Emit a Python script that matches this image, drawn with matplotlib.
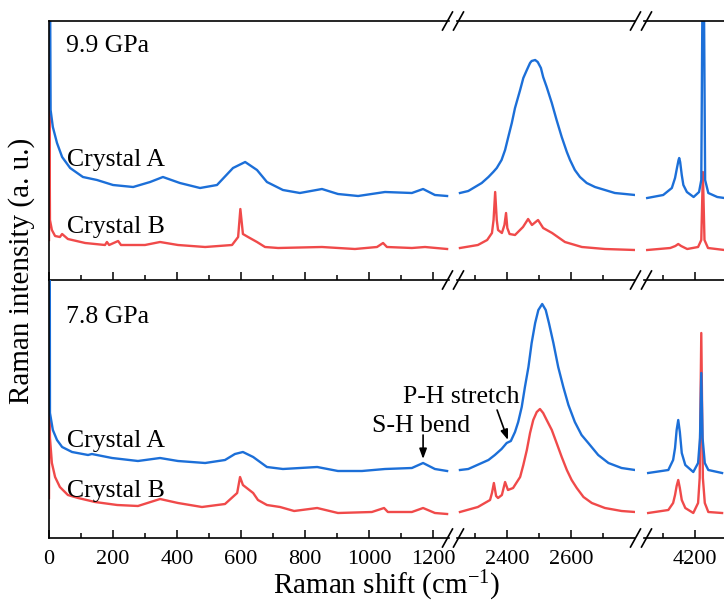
import numpy as np
import matplotlib
matplotlib.use('Agg')
import matplotlib.pyplot as plt
from matplotlib.lines import Line2D
from matplotlib.ticker import FixedLocator, NullFormatter

plt.rcParams['font.family'] = ['Liberation Serif', 'DejaVu Serif']
plt.rcParams['mathtext.fontset'] = 'custom'
plt.rcParams['mathtext.rm'] = 'Liberation Serif'
plt.rcParams['mathtext.it'] = 'Liberation Serif:italic'

nan = np.nan

# ---------------- data (Raman shift in cm^-1, intensity in arbitrary units) -------------
# 9.9 GPa, Crystal A
shift_99_A = [0, 2, 5, 12, 25, 41, 66, 106, 150, 200, 263, 316, 356, 409, 472, 525, 575, 613, 650,
              681, 731, 784, 853, 903, 966, 1050, 1134, 1169, 1206, 1244, nan,
              2253, 2279, 2300, 2321, 2342, 2357, 2368, 2383, 2394, 2404, 2415, 2425, 2441, 2451, 2462,
              2472, 2477, 2488, 2496, 2506, 2513, 2524, 2540, 2555, 2571, 2587, 2597, 2612, 2628, 2649,
              2675, 2706, 2737, 2769, 2800, nan,
              4050, 4100, 4127, 4137, 4143, 4148, 4150, 4153, 4158, 4163, 4174, 4195, 4212, 4219, 4225,
              4231, 4241, 4269, 4291]
int_99_A = [400, 400, 170, 153, 137, 123, 112, 103, 100, 95, 93, 98, 103, 97, 92, 95, 112, 118, 110,
            98, 90, 87, 91, 86, 84, 88, 87, 91, 85, 84, nan,
            87, 89, 93, 97, 103, 108, 112, 120, 130, 143, 157, 172, 190, 202, 210,
            217, 219, 220, 218, 212, 203, 193, 177, 160, 143, 128, 120, 110, 103, 97,
            93, 90, 87, 86, 85, nan,
            82, 85, 92, 102, 112, 120, 122, 118, 105, 95, 88, 83, 88, 100, 400,
            100, 87, 83, 82]

# 9.9 GPa, Crystal B
shift_99_B = [0, 1, 3, 9, 19, 34, 41, 59, 113, 175, 181, 188, 216, 225, 300, 347, 403, 488, 572, 591,
              598, 606, 622, 650, 675, 716, 853, 956, 1025, 1044, 1056, 1134, 1175, 1244, nan,
              2253, 2309, 2338, 2353, 2358, 2363, 2368, 2372, 2384, 2392, 2397, 2401, 2408, 2425, 2450,
              2466, 2478, 2497, 2513, 2541, 2581, 2634, 2706, 2800, nan,
              4050, 4122, 4138, 4147, 4156, 4175, 4209, 4219, 4224, 4229, 4240, 4291]
int_99_B = [40, 205, 60, 50, 44, 43, 46, 41, 37, 35, 38, 35, 39, 35, 35, 38, 35, 33, 35, 43,
            71, 46, 43, 38, 33, 32, 33, 31, 33, 37, 33, 32, 33, 31, nan,
            32, 35, 40, 47, 60, 88, 60, 50, 47, 55, 67, 52, 46, 45, 53,
            61, 55, 60, 52, 47, 38, 33, 31, 30, nan,
            30, 32, 34, 36, 34, 31, 33, 40, 108, 40, 32, 30]

# 7.8 GPa, Crystal A
shift_78_A = [0, 2, 3, 12, 25, 41, 72, 122, 134, 197, 278, 347, 403, 488, 550, 581, 606, 638, 681,
              731, 838, 903, 978, 1050, 1134, 1169, 1206, 1244, nan,
              2253, 2279, 2300, 2321, 2342, 2362, 2383, 2399, 2412, 2425, 2435, 2446, 2456, 2467, 2477,
              2488, 2498, 2510, 2521, 2531, 2545, 2560, 2576, 2592, 2612, 2633, 2654, 2685, 2717, 2758,
              2800, nan,
              4053, 4116, 4131, 4137, 4142, 4147, 4152, 4158, 4169, 4194, 4209, 4215, 4219, 4223, 4230,
              4241, 4284]
int_78_A = [400, 400, 125, 108, 98, 91, 86, 83, 84, 80, 77, 80, 77, 75, 78, 84, 86, 81, 71,
            69, 71, 67, 67, 69, 70, 75, 69, 67, nan,
            68, 69, 72, 75, 78, 83, 89, 95, 97, 106, 116, 131, 151, 171, 195,
            215, 228, 234, 228, 215, 195, 171, 151, 133, 116, 103, 95, 83, 75, 70,
            68, nan,
            65, 68, 78, 90, 108, 118, 106, 85, 73, 66, 75, 100, 165, 100, 75,
            68, 65]

# 7.8 GPa, Crystal B
shift_78_B = [0, 1, 3, 9, 19, 34, 59, 91, 144, 213, 278, 347, 403, 478, 550, 588, 597, 606, 638, 653,
              681, 722, 766, 838, 903, 1009, 1047, 1059, 1134, 1169, 1206, 1244, nan,
              2253, 2309, 2347, 2353, 2359, 2366, 2372, 2384, 2394, 2403, 2419, 2441, 2451, 2462, 2472,
              2482, 2493, 2503, 2513, 2524, 2540, 2555, 2571, 2587, 2602, 2618, 2639, 2665, 2706, 2758,
              2800, nan,
              4053, 4116, 4131, 4137, 4142, 4147, 4152, 4158, 4169, 4194, 4209, 4214, 4219, 4224, 4230,
              4241, 4284]
int_78_B = [40, 155, 100, 75, 61, 51, 43, 40, 36, 33, 32, 39, 35, 31, 34, 45, 61, 53, 45, 38,
            33, 31, 27, 30, 25, 26, 30, 26, 26, 30, 25, 24, nan,
            26, 31, 38, 45, 55, 42, 40, 43, 56, 48, 50, 61, 73, 88, 105,
            118, 126, 129, 125, 118, 108, 95, 81, 68, 58, 50, 41, 35, 30, 27,
            26, nan,
            25, 28, 35, 43, 52, 58, 50, 38, 30, 25, 35, 60, 205, 60, 35,
            26, 25]

pressure_labels = ['9.9 GPa', '7.8 GPa']
crystal_labels = ['Crystal A', 'Crystal B']
seg_limits = [(0, 1250), (2245, 2800), (4040, 4290)]
seg_major = [[0, 200, 400, 600, 800, 1000, 1200], [2400, 2600], [4200]]
seg_minor = [[100, 300, 500, 700, 900, 1100], [2300, 2500, 2700], [4100]]

# ---------------- layout ----------------
W, H = 724, 607
fig = plt.figure(figsize=(W / 100, H / 100), dpi=100)

def fx(px):
    return px / W

def fy(py):
    return 1 - py / H

seg_px = [(49, 449), (457.4, 635), (644, 724)]
rows = [(21, 280), (280, 538)]
blue = '#1c6fd8'
red = '#f04a4a'
series = [((shift_99_A, int_99_A), (shift_99_B, int_99_B)),
          ((shift_78_A, int_78_A), (shift_78_B, int_78_B))]

axes = []
for r, (ytop, ybot) in enumerate(rows):
    row_axes = []
    for s, (x0, x1) in enumerate(seg_px):
        ax = fig.add_axes([fx(x0), fy(ybot), (x1 - x0) / W, (ybot - ytop) / H])
        (sa, ia), (sb, ib) = series[r]
        ax.plot(sb, ib, color=red, lw=1.7, solid_joinstyle='round')
        ax.plot(sa, ia, color=blue, lw=1.7, solid_joinstyle='round')
        ax.set_xlim(*seg_limits[s])
        ax.set_ylim(0, ybot - ytop)
        ax.set_yticks([])
        ax.xaxis.set_major_locator(FixedLocator(seg_major[s]))
        ax.xaxis.set_minor_locator(FixedLocator(seg_minor[s]))
        ax.tick_params(axis='x', which='major', direction='in', length=6, width=1.1,
                       labelsize=16, pad=9)
        ax.tick_params(axis='x', which='minor', direction='in', length=3.5, width=1.1)
        ax.spines['right'].set_visible(False)
        if s > 0:
            ax.spines['left'].set_visible(False)
        if r == 1:
            ax.spines['top'].set_visible(False)
        else:
            ax.xaxis.set_major_formatter(NullFormatter())
        for sp in ax.spines.values():
            sp.set_linewidth(1.2)
        ax.patch.set_alpha(0)
        row_axes.append(ax)
    axes.append(row_axes)

# break marks
for yb in (21, 280, 538):
    for cx in (447.5, 458.5, 635.5, 646.5):
        fig.add_artist(Line2D([fx(cx - 5), fx(cx + 5)], [fy(yb + 9), fy(yb - 9)],
                              color='black', lw=1.2, transform=fig.transFigure))

# texts
tfs = 18.5
fig.text(fx(66), fy(52), pressure_labels[0], fontsize=tfs, va='baseline')
fig.text(fx(66), fy(323), pressure_labels[1], fontsize=tfs, va='baseline')
fig.text(fx(67), fy(166), crystal_labels[0], fontsize=tfs, va='baseline')
fig.text(fx(67), fy(233), crystal_labels[1], fontsize=tfs, va='baseline')
fig.text(fx(67), fy(447), crystal_labels[0], fontsize=tfs, va='baseline')
fig.text(fx(67), fy(497), crystal_labels[1], fontsize=tfs, va='baseline')
fig.text(fx(403), fy(403), 'P-H stretch', fontsize=tfs, va='baseline')
fig.text(fx(372), fy(432), 'S-H bend', fontsize=tfs, va='baseline')

arrow_kw = dict(arrowstyle='-|>,head_length=0.6,head_width=0.22', color='black', lw=1.2,
                shrinkA=0, shrinkB=0)
axes[1][0].annotate('', xy=(1169, 79), xytext=(1169, 103), arrowprops=arrow_kw)
axes[1][1].annotate('', xy=(2403, 98), xytext=(2369, 128), arrowprops=arrow_kw)

fig.text(fx(22), fy(271), 'Raman intensity (a. u.)', fontsize=21, rotation=90,
         ha='center', va='center')
fig.text(fx(387), fy(586), 'Raman shift (cm$^{-1}$)', fontsize=21, ha='center', va='center')

fig.savefig('out.png', dpi=100)
